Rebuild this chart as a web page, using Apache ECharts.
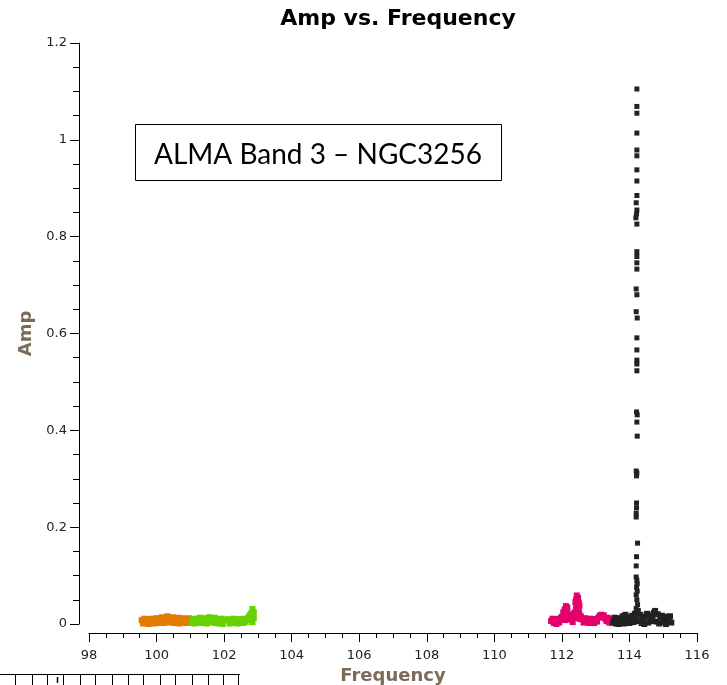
<!DOCTYPE html>
<html>
<head>
<meta charset="utf-8">
<script src="https://cdn.jsdelivr.net/npm/echarts@6/dist/echarts.min.js"></script>
<style>
html,body{margin:0;padding:0;background:#fff;}
#chart{width:727px;height:685px;}
</style>
</head>
<body>
<div id="chart"></div>
<script>
// ---- Data ----
const xTicks = [98, 100, 102, 104, 106, 108, 110, 112, 114, 116];
const yTicks = [0, 0.2, 0.4, 0.6, 0.8, 1, 1.2];

const orangeFreq = [99.56, 99.60, 99.64, 99.68, 99.72, 99.76, 99.80, 99.84, 99.88, 99.92, 99.96, 100.00, 100.04, 100.08, 100.12, 100.16, 100.20, 100.24, 100.28, 100.32, 100.36, 100.40, 100.44, 100.48, 100.52, 100.56, 100.60, 100.64, 100.68, 100.72, 100.76, 100.80, 100.84, 100.88, 100.92, 100.96, 101.00];
const orangeAmp = [0.008, 0.001, 0.011, 0.002, 0.009, 0.000, 0.010, 0.003, 0.011, 0.001, 0.009, 0.012, 0.002, 0.010, 0.004, 0.014, 0.002, 0.011, 0.005, 0.016, 0.003, 0.012, 0.006, 0.014, 0.002, 0.011, 0.004, 0.013, 0.001, 0.010, 0.012, 0.003, 0.011, 0.002, 0.009, 0.012, 0.004];

const greenFreq = [101.04, 101.08, 101.12, 101.16, 101.20, 101.24, 101.28, 101.32, 101.36, 101.40, 101.44, 101.48, 101.52, 101.56, 101.60, 101.64, 101.68, 101.72, 101.76, 101.80, 101.84, 101.88, 101.92, 101.96, 102.00, 102.04, 102.08, 102.12, 102.16, 102.20, 102.24, 102.28, 102.32, 102.36, 102.40, 102.44, 102.48, 102.52, 102.56, 102.60, 102.64, 102.68, 102.72, 102.76, 102.80, 102.84, 102.88, 102.84, 102.88];
const greenAmp = [0.002, 0.010, 0.001, 0.011, 0.003, 0.009, 0.013, 0.002, 0.010, 0.004, 0.012, 0.001, 0.009, 0.014, 0.003, 0.011, 0.004, 0.013, 0.002, 0.010, 0.001, 0.008, 0.011, 0.000, 0.009, -0.001, 0.007, 0.010, 0.001, 0.008, 0.003, 0.011, 0.002, 0.009, 0.001, 0.010, 0.003, 0.008, 0.002, 0.011, 0.004, 0.009, 0.014, 0.018, 0.022, 0.031, 0.012, 0.004, 0.024];

const pinkFreq = [111.68, 111.72, 111.76, 111.80, 111.84, 111.88, 111.92, 111.96, 112.00, 112.04, 112.08, 112.12, 112.16, 112.20, 112.24, 112.28, 112.32, 112.36, 112.40, 112.44, 112.48, 112.52, 112.56, 112.60, 112.64, 112.68, 112.72, 112.76, 112.80, 112.84, 112.88, 112.92, 112.96, 113.00, 113.04, 113.08, 113.12, 113.16, 113.20, 113.24, 113.28, 113.32, 113.36, 113.40, 113.44, 113.48,
  112.04, 112.06, 112.08, 112.10, 112.12, 112.14, 112.16, 112.18, 112.20, 112.38, 112.40, 112.42, 112.44, 112.44, 112.46, 112.48, 112.50, 112.52, 112.54, 112.42, 112.46, 112.50, 112.13, 112.09];
const pinkAmp = [0.006, 0.011, 0.002, 0.009, 0.000, 0.010, 0.003, 0.012, 0.015, 0.024, 0.030, 0.037, 0.034, 0.020, 0.009, 0.012, 0.004, 0.022, 0.045, 0.059, 0.054, 0.038, 0.016, 0.011, 0.003, 0.012, 0.005, 0.010, 0.002, 0.011, 0.004, 0.009, 0.002, 0.010, 0.005, 0.013, 0.017, 0.019, 0.014, 0.018, 0.011, 0.006, 0.013, 0.003, 0.010, 0.002,
  0.010, 0.016, 0.020, 0.024, 0.028, 0.020, 0.026, 0.015, 0.012, 0.012, 0.025, 0.032, 0.042, 0.022, 0.048, 0.036, 0.028, 0.020, 0.010, 0.050, 0.030, 0.044, 0.016, 0.008];

const blackFreq = [113.52, 113.56, 113.60, 113.64, 113.68, 113.72, 113.76, 113.80, 113.84, 113.88, 113.92, 113.96, 114.00, 114.04, 114.08, 114.12, 114.16, 114.20, 114.24, 114.28, 114.32, 114.36, 114.40, 114.44, 114.48, 114.52, 114.56, 114.60, 114.64, 114.68, 114.72, 114.76, 114.80, 114.84, 114.88, 114.92, 114.96, 115.00, 115.04, 115.08, 115.12, 115.16, 115.20, 115.24];
const blackAmp = [0.004, 0.013, 0.001, 0.010, 0.000, 0.012, 0.004, 0.016, 0.001, 0.019, 0.006, 0.014, 0.002, 0.011, 0.017, 0.004, 0.021, 0.010, 0.026, 0.006, 0.019, 0.002, 0.012, 0.000, 0.015, 0.021, 0.003, 0.018, 0.006, 0.013, 0.023, 0.027, 0.005, 0.020, 0.001, 0.014, 0.017, 0.004, 0.015, 0.000, 0.013, 0.006, 0.016, 0.003];

const spikeFreq = [114.22, 114.22, 114.22, 114.22, 114.22, 114.22, 114.22, 114.22, 114.22, 114.20, 114.22, 114.21, 114.19, 114.22, 114.22, 114.22, 114.22, 114.22, 114.20, 114.22, 114.20, 114.23, 114.22, 114.22, 114.22, 114.22, 114.22, 114.21, 114.23, 114.22, 114.23, 114.20, 114.22, 114.21, 114.21, 114.21, 114.20, 114.20, 114.24, 114.21, 114.20, 114.20, 114.22, 114.23, 114.21, 114.23, 114.20, 114.22, 114.24, 114.20, 114.26];
const spikeAmp = [1.105, 1.069, 1.055, 1.014, 0.979, 0.967, 0.938, 0.915, 0.885, 0.870, 0.855, 0.847, 0.839, 0.826, 0.769, 0.759, 0.746, 0.733, 0.692, 0.680, 0.645, 0.632, 0.591, 0.566, 0.545, 0.537, 0.523, 0.438, 0.432, 0.417, 0.388, 0.316, 0.312, 0.306, 0.250, 0.240, 0.229, 0.221, 0.167, 0.139, 0.120, 0.097, 0.090, 0.083, 0.076, 0.068, 0.060, 0.050, 0.040, 0.032, 0.028];

const seriesColors = { orange: '#e37a00', green: '#66d100', pink: '#e3006d', black: '#222222' };

function pairs(fx, ay) { return fx.map((f, i) => [f, ay[i]]); }

const chart = echarts.init(document.getElementById('chart'), null, { renderer: 'canvas' });

const labelFont = 'DejaVu Sans';
const nameColor = '#7a6c58';

function scatter(name, data, color, size) {
  return {
    name: name, type: 'scatter', data: data,
    symbol: 'rect', symbolSize: size,
    itemStyle: { color: color, opacity: 1 },
    emphasis: { disabled: true },
    animation: false
  };
}

// bottom-left partial axis fragment
const fragTicks = [15, 31.7, 46.7, 63.3, 80, 95, 111.7, 128.3, 143.3, 160, 175, 191.7, 208.3, 223.3, 238.3];
const fragGraphics = [{ type: 'line', shape: { x1: 0, y1: 674.5, x2: 240, y2: 674.5 }, style: { stroke: '#000', lineWidth: 1 } }];
fragTicks.forEach(function (tx) {
  fragGraphics.push({ type: 'line', shape: { x1: Math.round(tx) + 0.5, y1: 674, x2: Math.round(tx) + 0.5, y2: 685 }, style: { stroke: '#000', lineWidth: 1 } });
});
fragGraphics.push({ type: 'line', shape: { x1: 57.5, y1: 677, x2: 57.5, y2: 683 }, style: { stroke: '#000', lineWidth: 1.5 } });

chart.setOption({
  backgroundColor: '#ffffff',
  animation: false,
  title: {
    text: 'Amp vs. Frequency',
    left: 393, top: 3, textAlign: 'center',
    textStyle: { fontFamily: labelFont, fontWeight: 'bold', fontSize: 22, color: '#000' }
  },
  grid: { left: 89, right: 30, top: 43, bottom: 61, containLabel: false, outerBoundsMode: 'none' },
  xAxis: {
    type: 'value', min: xTicks[0], max: xTicks[xTicks.length - 1], interval: 2,
    offset: 9,
    name: 'Frequency', nameLocation: 'middle', nameGap: 29,
    nameTextStyle: { fontFamily: labelFont, fontWeight: 'bold', fontSize: 18, color: nameColor },
    axisLine: { onZero: false, lineStyle: { color: '#000', width: 1 } },
    axisTick: { show: true, length: 9, lineStyle: { color: '#000' } },
    minorTick: { show: true, splitNumber: 4, length: 5, lineStyle: { color: '#000' } },
    axisLabel: { fontFamily: labelFont, fontSize: 13, color: '#222', margin: 16 },
    splitLine: { show: false }
  },
  yAxis: {
    type: 'value', min: yTicks[0], max: yTicks[yTicks.length - 1], interval: 0.2,
    offset: 10,
    name: 'Amp', nameLocation: 'middle', nameGap: 38, nameRotate: 90,
    nameTextStyle: { fontFamily: labelFont, fontWeight: 'bold', fontSize: 18, color: nameColor },
    axisLine: { show: true, onZero: false, lineStyle: { color: '#000', width: 1 } },
    axisTick: { show: true, length: 9, lineStyle: { color: '#000' } },
    minorTick: { show: true, splitNumber: 4, length: 6, lineStyle: { color: '#000' } },
    axisLabel: { fontFamily: labelFont, fontSize: 13, color: '#222', margin: 12 },
    splitLine: { show: false }
  },
  series: [
    scatter('spw0', pairs(orangeFreq, orangeAmp), seriesColors.orange, 6),
    scatter('spw1', pairs(greenFreq, greenAmp), seriesColors.green, 6),
    scatter('spw2', pairs(pinkFreq, pinkAmp), seriesColors.pink, 6),
    scatter('spw3', pairs(blackFreq, blackAmp), seriesColors.black, 6),
    scatter('spw3 line', pairs(spikeFreq, spikeAmp), seriesColors.black, 5)
  ],
  graphic: [
    {
      type: 'group',
      children: [
        { type: 'rect', shape: { x: 135.5, y: 124.5, width: 366, height: 56 }, style: { fill: '#fff', stroke: '#000', lineWidth: 1 } },
        { type: 'text', x: 318, y: 155, style: { text: 'ALMA Band 3 – NGC3256', font: '28px Lato', fill: '#000', textAlign: 'center', textVerticalAlign: 'middle' } }
      ]
    }
  ].concat(fragGraphics)
});
</script>
</body>
</html>
